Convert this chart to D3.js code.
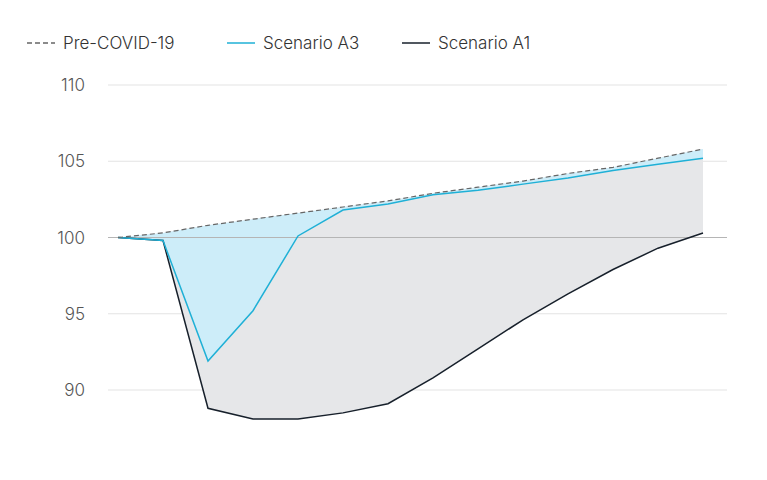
<!DOCTYPE html><html><head><meta charset="utf-8"><script src="https://cdn.jsdelivr.net/npm/d3@7"></script>
<style>body{margin:0;background:#fff}text{font-family:Inter,"Noto Sans",sans-serif}</style></head><body>
<svg id="c" width="767" height="480"></svg>
<script>
const periods=d3.range(14);
const preCovid=[100,100.3,100.8,101.2,101.6,102.0,102.4,102.9,103.3,103.7,104.2,104.6,105.2,105.8];
const scenarioA3=[100,99.8,91.9,95.2,100.1,101.8,102.2,102.8,103.1,103.5,103.9,104.4,104.8,105.2];
const scenarioA1=[100,99.8,88.8,88.1,88.1,88.5,89.1,90.8,92.7,94.6,96.3,97.9,99.3,100.3];
const yTicks=[90,95,100,105,110];
const svg=d3.select("#c");
const x=d3.scaleLinear().domain([0,13]).range([118,703]);
const y=d3.scaleLinear().domain([90,110]).range([390,85]);
svg.append("g").selectAll("line").data(yTicks.filter(d=>d!==100)).join("line")
 .attr("x1",108).attr("x2",727).attr("y1",d=>y(d)).attr("y2",d=>y(d))
 .attr("stroke","#e3e3e3").attr("stroke-width",1);
svg.append("g").selectAll("text").data(yTicks).join("text")
 .attr("x",85).attr("y",d=>y(d)+6).attr("text-anchor","end").attr("font-size",17).attr("font-weight",300).attr("fill","#555").text(d=>d);
const area=(top,bot)=>d3.area().x((d,i)=>x(i)).y0((d,i)=>y(bot[i])).y1((d,i)=>y(top[i]));
svg.append("path").datum(periods).attr("d",area(preCovid,scenarioA1)).attr("fill","#e6e7e9");
svg.append("path").datum(periods).attr("d",area(preCovid,scenarioA3)).attr("fill","#cdedf9");
svg.append("line").attr("x1",108).attr("x2",727).attr("y1",y(100)).attr("y2",y(100)).attr("stroke","#b5b5b5");
const line=arr=>d3.line().x((d,i)=>x(i)).y((d,i)=>y(arr[i]));
svg.append("path").datum(periods).attr("d",line(scenarioA1)).attr("fill","none").attr("stroke","#17202b").attr("stroke-width",1.5);
svg.append("path").datum(periods).attr("d",line(scenarioA3)).attr("fill","none").attr("stroke","#1fb0d6").attr("stroke-width",1.5);
svg.append("path").datum(periods).attr("d",line(preCovid)).attr("fill","none").attr("stroke","#666").attr("stroke-width",1.2).attr("stroke-dasharray","5,3");
const legend=[{t:"Pre-COVID-19",c:"#666",d:"5,3",x:27},{t:"Scenario A3",c:"#1fb0d6",d:null,x:227},{t:"Scenario A1",c:"#17202b",d:null,x:402}];
legend.forEach(l=>{
 svg.append("line").attr("x1",l.x).attr("x2",l.x+28).attr("y1",43).attr("y2",43).attr("stroke",l.c).attr("stroke-width",1.5).attr("stroke-dasharray",l.d);
 svg.append("text").attr("x",l.x+36).attr("y",49).attr("font-size",17).attr("font-weight",300).attr("fill","#333").text(l.t);
});
</script></body></html>
